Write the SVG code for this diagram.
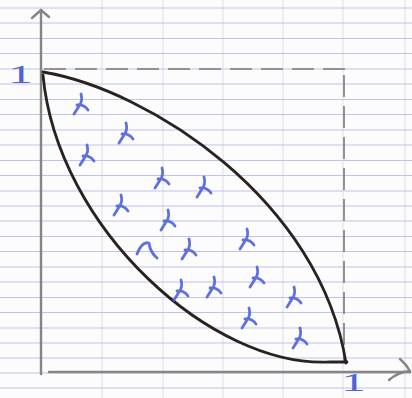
<svg xmlns="http://www.w3.org/2000/svg" width="412" height="398" viewBox="0 0 412 398">
<defs>
<style>
.hg{stroke:#c2c2ea;stroke-width:1}
.vg{stroke:#dddde9;stroke-width:1}
.ax{fill:none;stroke:#858585;stroke-width:2.4;stroke-linecap:round;stroke-linejoin:round}
.dash{fill:none;stroke:#7a7a7a;stroke-width:1.6;stroke-dasharray:22 9}
.cv{fill:none;stroke:#2a2220;stroke-width:2.8;stroke-linecap:round;stroke-linejoin:round}
.mk{fill:none;stroke:#4f62dc;stroke-width:2.8;stroke-linecap:round;stroke-linejoin:round;opacity:0.9}
.lbl{font-family:"Liberation Serif",serif;font-size:26px;fill:#4f62dc}
</style>
<g id="x" class="mk">
<path d="M1,-10 Q3,-3 -1,2 Q-4,7 -6,10"/>
<path d="M-3,1 Q4,0 8,6"/>
</g>
</defs>
<rect width="412" height="398" fill="#fcfcfd"/>
<g id="grid">
<path class="vg" d="M102,0V398M163,0V398M223,0V398M283,0V398M343,0V398M405,0V398"/>
<path class="hg" d="M0,8H412M0,23H412M0,38.5H412M0,53.5H412M0,69H412M0,84H412M0,99.5H412M0,114.5H412M0,130H412M0,145H412M0,160.5H412M0,175.5H412M0,191H412M0,206H412M0,221H412M0,236.5H412M0,251.5H412M0,267H412M0,282H412M0,297.5H412M0,312.5H412M0,328H412M0,343H412M0,358H412M0,373H412M0,388H412"/>
</g>
<g id="axes">
<path class="ax" d="M41,10V374"/>
<path class="ax" d="M32,18L41,10L49,17"/>
<path class="ax" stroke="#6b6b6b" d="M49,372H410"/>
<path class="ax" d="M389,380Q398,372 410,371M400,359Q406,364 410,371"/>
</g>
<g id="dashes">
<path class="dash" d="M44,69H345"/>
<path class="dash" d="M344,75V362"/>
</g>
<g id="curves">
<path class="cv" d="M43,72C150,90 320,200 346,363"/>
<path class="cv" d="M43,75C57,228 212,368 330,362L347,362"/>
</g>
<g id="points">
<use href="#x" x="80" y="104"/>
<use href="#x" x="125" y="133"/>
<use href="#x" x="86" y="155"/>
<use href="#x" x="161" y="178"/>
<use href="#x" x="203" y="187"/>
<use href="#x" x="120" y="205"/>
<use href="#x" x="167" y="220"/>
<use href="#x" x="188" y="249"/>
<use href="#x" x="246" y="239"/>
<use href="#x" x="256" y="277"/>
<use href="#x" x="180" y="290"/>
<use href="#x" x="213" y="287"/>
<use href="#x" x="293" y="297"/>
<use href="#x" x="248" y="318"/>
<use href="#x" x="299" y="338"/>
<path class="mk" d="M137,254Q142,241 149,243Q150,252 157,258"/>
</g>
<g id="labels">
<text class="lbl" x="8" y="83" textLength="25" lengthAdjust="spacingAndGlyphs">1</text>
<text class="lbl" x="341" y="391" font-size="23" textLength="25" lengthAdjust="spacingAndGlyphs">1</text>
</g>
</svg>
